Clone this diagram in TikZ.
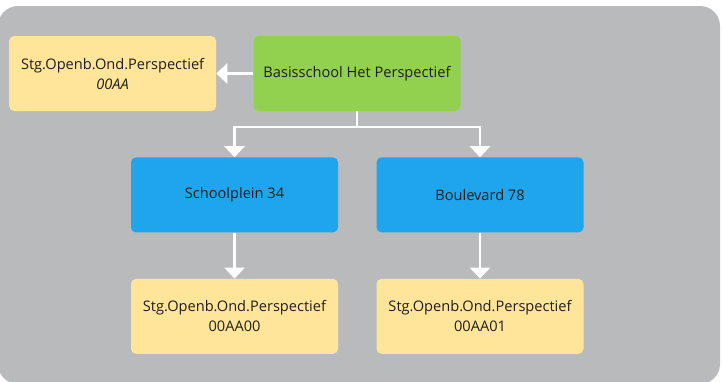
\documentclass[tikz,border=0pt]{standalone}
\usepackage{fontspec}
\setmainfont{Open Sans}
\usepackage{tikz}
\usetikzlibrary{positioning,arrows.meta}
\definecolor{panelgray}{HTML}{B9BABC}
\definecolor{rootgreen}{HTML}{92D050}
\definecolor{siteblue}{HTML}{1FA5EB}
\definecolor{codeyellow}{HTML}{FFE599}
\definecolor{textdark}{HTML}{1E1E1E}

\begin{document}
\begin{tikzpicture}[
    box/.style={rounded corners=5pt, minimum height=75pt, minimum width=207pt, font=\fontsize{14.6}{20}\selectfont, text=textdark, align=center, inner sep=0pt},
    arrow/.style={-{Triangle[width=20pt,length=11pt]}, white, line width=2.5pt},
    node distance=46pt
]
\useasboundingbox (0,0) rectangle (722pt,-381pt);
\fill[panelgray, rounded corners=20pt] (-2pt,-6pt) rectangle (720pt,-384pt);

% Top row
\node[box, fill=rootgreen] (school) at (357pt,-73.5pt) {Basisschool Het Perspectief};
\node[box, fill=codeyellow, left=37pt of school] (board) {Stg.Openb.Ond.Perspectief\\\textit{00AA}};

% Locations
\node[box, fill=siteblue, below=of school, xshift=-122.5pt] (plein) {Schoolplein 34};
\node[box, fill=siteblue, below=of school, xshift=123pt] (boulevard) {Boulevard 78};
\node[box, fill=codeyellow, below=of plein] (code0) {Stg.Openb.Ond.Perspectief\\00AA00};
\node[box, fill=codeyellow, below=of boulevard] (code1) {Stg.Openb.Ond.Perspectief\\00AA01};

% Arrows
\coordinate[below=16pt of school] (split);
\draw[arrow] (school) -- (board);
\draw[arrow] (school.south) -- (split) -| (plein.north);
\draw[arrow] (split) -| (boulevard.north);
\draw[arrow] (plein) -- (code0);
\draw[arrow] (boulevard) -- (code1);
\end{tikzpicture}
\end{document}
